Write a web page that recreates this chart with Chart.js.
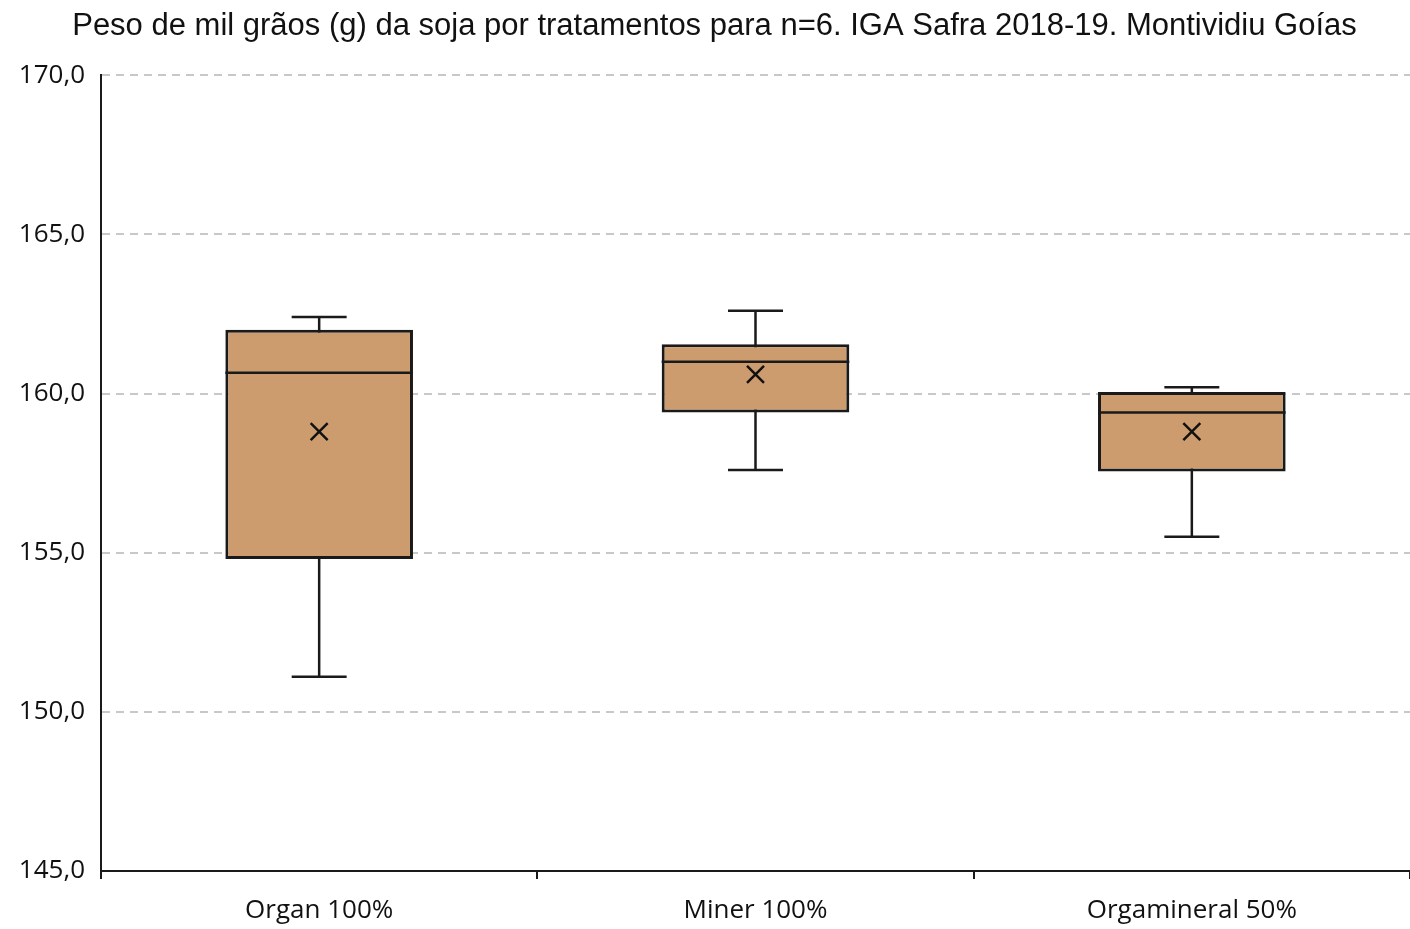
<!DOCTYPE html>
<html>
<head>
<meta charset="utf-8">
<script src="https://cdn.jsdelivr.net/npm/chart.js@4/dist/chart.umd.min.js"></script>
<style>
    html, body { margin: 0; padding: 0; background: #ffffff; overflow: hidden; }
    #wrap { width: 1410px; height: 929px; position: relative; }
</style>
</head>
<body>
<div id="wrap"><canvas id="boxChart"></canvas></div>
<script>
// ============================================
// DATA
// ============================================
const categories = ['Organ 100%', 'Miner 100%', 'Orgamineral 50%'];
const minValues = [151.1, 157.6, 155.5];
const q1Values = [154.8, 159.4, 157.55];
const medianValues = [160.65, 161.0, 159.4];
const q3Values = [162.0, 161.55, 160.05];
const maxValues = [162.4, 162.6, 160.2];
const meanValues = [158.8, 160.6, 158.8];
const yTicks = [145, 150, 155, 160, 165, 170];

const titleText = 'Peso de mil grãos (g) da soja por tratamentos para n=6. IGA Safra 2018-19. Montividiu Goías';
const boxFill = '#cd9c6e';
const lineColor = '#1a1a1a';

// Whiskers, caps and median drawn through the chart's scales
const boxPlotPlugin = {
    id: 'boxPlotLines',
    beforeDatasetsDraw(chart) {
        const { ctx, scales } = chart;
        const x = scales.x, y = scales.y;
        const capHalf = x.width / categories.length * 0.063;
        ctx.save();
        ctx.strokeStyle = lineColor;
        ctx.lineWidth = 2.5;
        categories.forEach((c, i) => {
            const cx = x.getPixelForValue(i);
            const yMin = y.getPixelForValue(minValues[i]);
            const yMax = y.getPixelForValue(maxValues[i]);
            ctx.beginPath();
            ctx.moveTo(cx, yMin);
            ctx.lineTo(cx, yMax);
            ctx.moveTo(cx - capHalf, yMin);
            ctx.lineTo(cx + capHalf, yMin);
            ctx.moveTo(cx - capHalf, yMax);
            ctx.lineTo(cx + capHalf, yMax);
            ctx.stroke();
        });
        ctx.restore();
    },
    afterDatasetsDraw(chart) {
        const { ctx, scales } = chart;
        const meta = chart.getDatasetMeta(1);
        ctx.save();
        ctx.strokeStyle = lineColor;
        ctx.lineWidth = 2.5;
        meta.data.forEach((bar, i) => {
            const ym = scales.y.getPixelForValue(medianValues[i]);
            ctx.beginPath();
            ctx.moveTo(bar.x - bar.width / 2, ym);
            ctx.lineTo(bar.x + bar.width / 2, ym);
            ctx.stroke();
        });
        ctx.restore();
    }
};

const ctx = document.getElementById('boxChart');
new Chart(ctx, {
    type: 'bar',
    data: {
        labels: categories,
        datasets: [{
            type: 'line',
            label: 'Média',
            data: meanValues,
            showLine: false,
            pointStyle: 'crossRot',
            pointRadius: 12,
            pointBorderWidth: 2.5,
            pointBorderColor: '#111111',
            pointBackgroundColor: '#111111',
            order: 0
        }, {
            label: 'Caixa',
            data: categories.map((c, i) => [q1Values[i], q3Values[i]]),
            backgroundColor: boxFill,
            borderColor: lineColor,
            borderWidth: 3,
            borderSkipped: false,
            barPercentage: 0.43,
            categoryPercentage: 1.0,
            order: 1
        }]
    },
    options: {
        responsive: true,
        maintainAspectRatio: false,
        animation: false,
        layout: { autoPadding: false, padding: { top: 4, right: -11, left: 8, bottom: 0 } },
        plugins: {
            legend: { display: false },
            tooltip: { enabled: false },
            title: {
                display: true,
                text: titleText,
                color: '#111111',
                font: { family: "'Liberation Sans Narrow', 'Liberation Sans', Arial", size: 31, weight: 'normal' },
                padding: { top: 4, bottom: 30 }
            }
        },
        scales: {
            x: {
                afterFit(axis) {
                    axis.height = 58;
                    axis.paddingLeft = 0;
                    axis.paddingRight = 0;
                },
                grid: {
                    display: true,
                    offset: true,
                    drawOnChartArea: false,
                    drawTicks: true,
                    tickLength: 8,
                    color: lineColor,
                    lineWidth: 2
                },
                border: { display: true, color: lineColor, width: 2 },
                ticks: {
                    color: '#111111',
                    padding: 16,
                    font: { family: "'Open Sans', 'Noto Sans', sans-serif", size: 26 }
                }
            },
            y: {
                min: yTicks[0],
                max: yTicks[yTicks.length - 1],
                afterBuildTicks(axis) {
                    axis.ticks = yTicks.map(v => ({ value: v }));
                },
                afterFit(axis) {
                    axis.width = 93;
                },
                grid: {
                    color: '#c8c8c8',
                    lineWidth: 2,
                    drawTicks: false
                },
                border: { display: true, color: lineColor, width: 2, dash: [8, 6] },
                ticks: {
                    color: '#111111',
                    padding: 16,
                    font: { family: "'Open Sans', 'Noto Sans', sans-serif", size: 26 },
                    callback: function(value) {
                        return value.toFixed(1).replace('.', ',');
                    }
                }
            }
        }
    },
    plugins: [boxPlotPlugin]
});
</script>
</body>
</html>
